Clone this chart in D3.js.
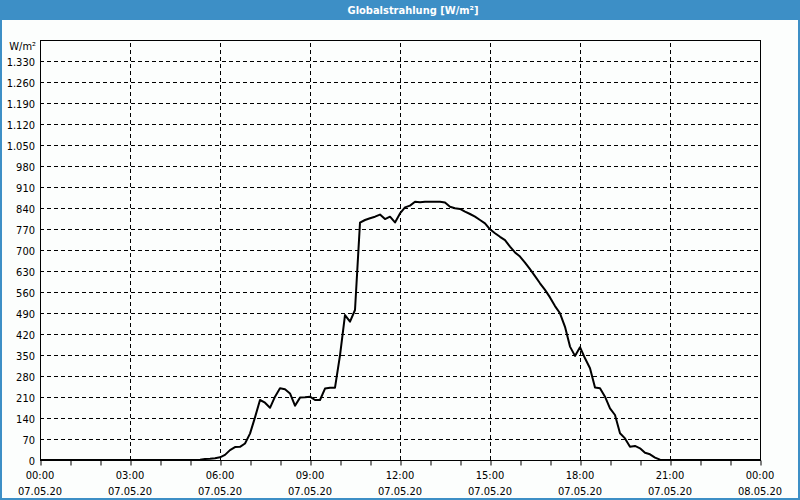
<!DOCTYPE html>
<html><head><meta charset="utf-8">
<script src="https://cdn.jsdelivr.net/npm/d3@7"></script>
<style>
html,body{margin:0;padding:0;background:#fff;}
svg{display:block;}
text{font-family:"DejaVu Sans Condensed","DejaVu Sans",sans-serif;}
</style></head>
<body>
<svg id="c" width="800" height="500"></svg>
<script>
const title = "Globalstrahlung [W/m²]";
const unitLabel = "W/m²";
// 10-minute samples starting 07.05.20 00:00
const sampleMinutes = 10;
const values = [
  0,0,0,0,0,0,0,0,0,0,0,0,0,0,0,0,
  0,0,0,0,0,0,0,0,0,0,0,0,0,0,0,0,
  1,3,4,6,9,17,33,43,44,55,88,142,200,191,174,211,
  239,236,222,181,208,209,211,200,200,238,241,241,349,483,461,500,
  791,800,806,811,818,803,811,792,822,842,848,861,859,861,861,861,
  861,858,844,839,837,828,820,811,800,789,769,756,744,733,711,692,
  678,658,636,613,589,567,542,513,489,444,378,347,376,339,306,242,
  239,211,172,150,89,72,44,47,39,24,19,8,1,0,0,0,
  0,0,0,0,0,0,0,0,0,0,0,0,0,0,0,0,0
];
const yTicks = [0,70,140,210,280,350,420,490,560,630,700,770,840,910,980,1050,1120,1190,1260,1330];
const xTickHours = [0,3,6,9,12,15,18,21,24];
const xTimeLabels = ["00:00","03:00","06:00","09:00","12:00","15:00","18:00","21:00","00:00"];
const xDateLabels = ["07.05.20","07.05.20","07.05.20","07.05.20","07.05.20","07.05.20","07.05.20","07.05.20","08.05.20"];
const xMinorHours = d3.range(0, 25, 1);

const W = 800, H = 500;
const m = {left:40, right:40, top:40, bottom:40};
const svg = d3.select("#c");
const blue = "#3d8fc6";

svg.append("rect").attr("width",W).attr("height",H).attr("fill","#fcfefd");
svg.append("rect").attr("x",0).attr("y",0).attr("width",W).attr("height",20).attr("fill",blue);
svg.append("rect").attr("x",1).attr("y",0).attr("width",W-2).attr("height",H-1)
  .attr("fill","none").attr("stroke",blue).attr("stroke-width",2);
svg.append("text").attr("x",413).attr("y",14).attr("text-anchor","middle")
  .attr("fill","#fff").attr("font-weight","bold").attr("font-size",11).text(title);

const x = d3.scaleLinear().domain([0,24]).range([m.left, W-m.right]);
const y = d3.scaleLinear().domain([0,1400]).range([H-m.bottom, m.top]);

const g = svg.append("g");
// horizontal grid
g.selectAll(".hg").data(yTicks.filter(v=>v>0)).join("line")
  .attr("x1",x(0)).attr("x2",x(24)).attr("y1",d=>y(d)+0.5).attr("y2",d=>y(d)+0.5)
  .attr("stroke","#000").attr("stroke-dasharray","4,3").attr("stroke-width",1);
// vertical grid
g.selectAll(".vg").data(xTickHours.filter(h=>h>0&&h<24)).join("line")
  .attr("x1",d=>x(d)+0.5).attr("x2",d=>x(d)+0.5).attr("y1",y(0)).attr("y2",y(1400))
  .attr("stroke","#000").attr("stroke-dasharray","4,3").attr("stroke-width",1);

// frame
g.append("rect").attr("x",x(0)+0.5).attr("y",y(1400)+0.5).attr("width",x(24)-x(0)).attr("height",y(0)-y(1400))
  .attr("fill","none").attr("stroke","#000").attr("stroke-width",1);

// x axis minor ticks
const xAxis = d3.axisBottom(x).tickValues(xMinorHours).tickSize(5).tickFormat("");
const xa = svg.append("g").attr("transform",`translate(0.5,${y(0)+0.5})`).call(xAxis);
xa.select(".domain").remove();
xa.selectAll("line").attr("stroke","#000");

// x labels
const fs = 11;
svg.selectAll(".xl1").data(xTickHours).join("text")
  .attr("x",d=>x(d)).attr("y",479).attr("text-anchor","middle").attr("font-size",fs).attr("fill","#000")
  .text((d,i)=>xTimeLabels[i]);
svg.selectAll(".xl2").data(xTickHours).join("text")
  .attr("x",d=>x(d)).attr("y",495).attr("text-anchor","middle").attr("font-size",fs).attr("fill","#000")
  .text((d,i)=>xDateLabels[i]);

// y labels
const loc = d3.formatLocale({decimal:",", thousands:".", grouping:[3], currency:["","€"]});
const fmt = loc.format(",d");
const yAxis = d3.axisLeft(y).tickValues(yTicks).tickSize(0).tickPadding(5).tickFormat(fmt);
const ya = svg.append("g").attr("transform",`translate(${x(0)},0.5)`).call(yAxis);
ya.select(".domain").remove();
ya.selectAll("text").attr("font-size",fs).attr("fill","#000")
  .attr("font-family",'"DejaVu Sans Condensed","DejaVu Sans",sans-serif');
svg.append("text").attr("x",36).attr("y",50).attr("text-anchor","end").attr("font-size",fs).text(unitLabel);

// data line
const line = d3.line().x((d,i)=>x(i*sampleMinutes/60)).y(d=>y(d));
svg.append("path").datum(values).attr("d",line).attr("fill","none")
  .attr("stroke","#000").attr("stroke-width",2).attr("stroke-linejoin","round");
</script>
</body></html>
